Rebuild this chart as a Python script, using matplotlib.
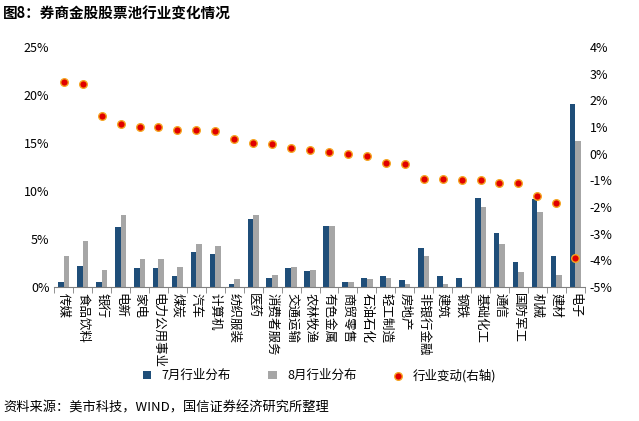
import matplotlib.pyplot as plt
import numpy as np

plt.rcParams['font.family'] = ['Noto Sans CJK SC', 'DejaVu Sans']

industries = ["传媒", "食品饮料", "银行", "电新", "家电", "电力公用事业", "煤炭", "汽车", "计算机",
              "纺织服装", "医药", "消费者服务", "交通运输", "农林牧渔", "有色金属", "商贸零售", "石油石化",
              "轻工制造", "房地产", "非银行金融", "建筑", "钢铁", "基础化工", "通信", "国防军工", "机械",
              "建材", "电子"]
jul = [0.5, 2.2, 0.5, 6.3, 2.0, 2.0, 1.2, 3.7, 3.4, 0.3, 7.1, 1.0, 2.0, 1.7, 6.4, 0.5, 1.0,
       1.2, 0.7, 4.1, 1.2, 1.0, 9.3, 5.6, 2.6, 9.2, 3.2, 19.1]
aug = [3.2, 4.8, 1.8, 7.5, 2.9, 2.9, 2.1, 4.5, 4.3, 0.8, 7.5, 1.3, 2.1, 1.8, 6.4, 0.5, 0.8,
       0.9, 0.3, 3.2, 0.3, 0.0, 8.3, 4.5, 1.6, 7.8, 1.3, 15.2]
change = [2.7, 2.6, 1.4, 1.1, 1.0, 1.0, 0.9, 0.9, 0.85, 0.55, 0.4, 0.35, 0.2, 0.15, 0.05, 0.0,
          -0.1, -0.35, -0.4, -0.95, -0.95, -1.0, -1.0, -1.1, -1.1, -1.6, -1.85, -3.9]

x = np.arange(len(industries))
w = 0.3

fig = plt.figure(figsize=(6.39, 4.21), dpi=100)
ax = fig.add_axes([0.085, 0.318, 0.83, 0.57])
ax.bar(x - w / 2, jul, w, color="#1f4e79", label="7月行业分布")
ax.bar(x + w / 2, aug, w, color="#a6a6a6", label="8月行业分布")
ax.set_ylim(0, 25)
ax.set_yticks(range(0, 26, 5))
ax.set_yticklabels([f"{v}%" for v in range(0, 26, 5)], fontsize=9)
ax.set_xlim(-0.5, len(x) - 0.5)
ax.set_xticks(x)
ax.set_xticklabels(industries, fontsize=9, rotation=-90, va="top", ha="center")
ax.set_xticks(np.arange(-0.5, len(x)), minor=True)
ax.tick_params(axis="x", which="major", length=0, pad=4)
ax.tick_params(axis="x", which="minor", length=4, color="#808080")
ax.tick_params(axis="y", length=0)
for s in ["top", "right", "left"]:
    ax.spines[s].set_visible(False)
ax.spines["bottom"].set_color("#808080")

ax2 = ax.twinx()
ax2.scatter(x, change, s=30, color="#e00000", edgecolor="#f5a623", linewidth=1, zorder=3, label="行业变动(右轴)")
ax2.set_ylim(-5, 4)
ax2.set_yticks(range(-5, 5))
ax2.set_yticklabels([f"{v}%" for v in range(-5, 5)], fontsize=9)
ax2.tick_params(axis="y", length=0)
for s in ["top", "right", "left", "bottom"]:
    ax2.spines[s].set_visible(False)

h1, l1 = ax.get_legend_handles_labels()
h2, l2 = ax2.get_legend_handles_labels()
fig.legend(h1 + h2, l1 + l2, loc="center", bbox_to_anchor=(0.5, 0.108), ncol=3, frameon=False,
           fontsize=9, handlelength=0.7, handleheight=0.7, columnspacing=3)

fig.text(0.005, 0.968, "图8：券商金股股票池行业变化情况", fontsize=10.5, fontweight="bold", va="center")
fig.text(0.005, 0.03, "资料来源：美市科技，WIND，国信证券经济研究所整理", fontsize=9.5, va="center")

fig.savefig("out.png", dpi=100)
